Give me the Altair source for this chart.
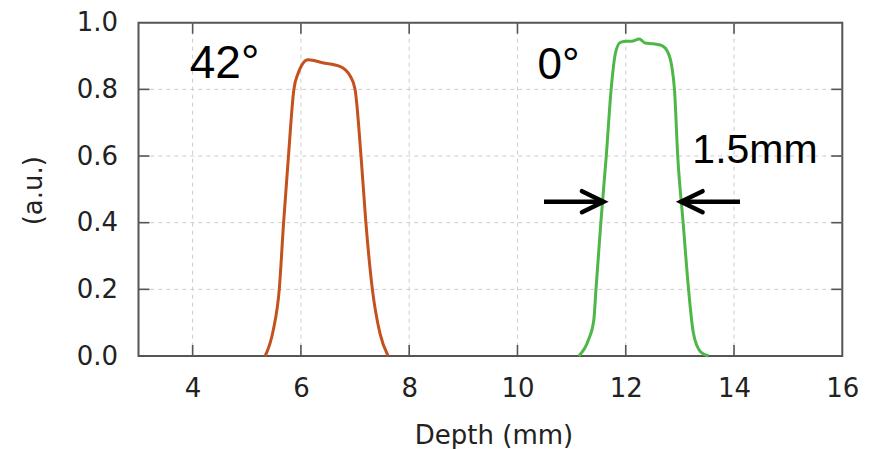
import altair as alt
import pandas as pd

# ---- data ----
x_42 = [5.34, 5.49, 5.60, 5.68, 5.77, 5.87, 5.95, 6.02, 6.08, 6.14, 6.40, 6.72, 6.91, 7.00, 7.11, 7.20, 7.32, 7.46, 7.61]
y_42 = [0.0, 0.078, 0.20, 0.40, 0.60, 0.80, 0.849, 0.874, 0.886, 0.889, 0.880, 0.869, 0.840, 0.80, 0.60, 0.40, 0.20, 0.068, 0.0]

x_0 = [11.13, 11.31, 11.41, 11.45, 11.54, 11.64, 11.73, 11.81, 11.90, 12.02, 12.11, 12.25, 12.36, 12.51, 12.67, 12.77, 12.85, 12.90, 12.96, 13.06, 13.16, 13.25, 13.38, 13.53]
y_0 = [0.0, 0.048, 0.108, 0.20, 0.40, 0.60, 0.80, 0.909, 0.941, 0.944, 0.944, 0.951, 0.939, 0.937, 0.931, 0.914, 0.869, 0.80, 0.60, 0.40, 0.20, 0.068, 0.013, 0.0]

series_names = ["42°", "0°"]
series_colors = ["#C4511E", "#4DB848"]

x_tick_labels = [4, 6, 8, 10, 12, 14, 16]
y_tick_labels = [0.0, 0.2, 0.4, 0.6, 0.8, 1.0]
x_grid = [4, 6, 8, 10, 12, 14]
y_grid = [0.2, 0.4, 0.6, 0.8]

note_text = ["42°", "0°", "1.5mm"]
note_x = [3.946, 10.37, 13.23]
note_y = [0.833, 0.832, 0.578]
note_size = [46, 44, 41]

arrow_tail = [10.49, 14.11]
arrow_head = [11.59, 13.02]
arrow_level = [0.463, 0.463]
arrow_angle = [0, 180]

# ---- tables ----
curves = pd.concat([
    pd.DataFrame({"depth": x_42, "val": y_42, "series": series_names[0]}),
    pd.DataFrame({"depth": x_0, "val": y_0, "series": series_names[1]}),
])
notes = pd.DataFrame({"t": note_text, "x": note_x, "y": note_y, "s": note_size})
arrows = pd.DataFrame({"tail": arrow_tail, "head": arrow_head, "y": arrow_level, "ang": arrow_angle})
xg = pd.DataFrame({"v": x_grid})
yg = pd.DataFrame({"v": y_grid})

W, H = 703.8, 333.3
xs = alt.Scale(domain=[3, 16], nice=False, zero=False)
ys = alt.Scale(domain=[0, 1], nice=False)
FRAME = "#555555"
TXT = "#222222"

x_axis = alt.Axis(
    values=x_tick_labels, format="d", ticks=False, tickSize=0, domain=False, grid=False,
    labelFont="DejaVu Sans", labelFontSize=26, labelColor=TXT, labelPadding=19.5,
    labelFlush=False, title="Depth (mm)", titleFont="DejaVu Sans", titleFontSize=26,
    titleFontWeight="normal", titleColor=TXT, titleX=355, titleY=79, titleBaseline="middle")
y_axis = alt.Axis(
    values=y_tick_labels, format=".1f", ticks=False, tickSize=0, domain=False, grid=False,
    labelFont="DejaVu Sans", labelFontSize=26, labelColor=TXT, labelPadding=21,
    labelFlush=False, title="(a.u.)", titleFont="DejaVu Sans", titleFontSize=26,
    titleFontWeight="normal", titleColor=TXT, titleAngle=270, titleX=-105.4, titleY=167.5,
    titleBaseline="middle", titleAlign="center")

def X(f):
    return alt.X(f, scale=xs, axis=x_axis)

def Y(f):
    return alt.Y(f, scale=ys, axis=y_axis)

grid_v = alt.Chart(xg).mark_rule(color="#cccccc", strokeDash=[4, 4], strokeWidth=1).encode(x=X("v:Q"))
grid_h = alt.Chart(yg).mark_rule(color="#cccccc", strokeDash=[4, 4], strokeWidth=1).encode(y=Y("v:Q"))

tick_b = alt.Chart(xg).mark_rule(color=FRAME, strokeWidth=1.6).encode(
    x=X("v:Q"), y=alt.value(H), y2=alt.value(H - 11))
tick_t = alt.Chart(xg).mark_rule(color=FRAME, strokeWidth=1.6).encode(
    x=X("v:Q"), y=alt.value(0), y2=alt.value(11))
tick_l = alt.Chart(yg).mark_rule(color=FRAME, strokeWidth=1.6).encode(
    y=Y("v:Q"), x=alt.value(0), x2=alt.value(11))
tick_r = alt.Chart(yg).mark_rule(color=FRAME, strokeWidth=1.6).encode(
    y=Y("v:Q"), x=alt.value(W - 11), x2=alt.value(W))

lines = alt.Chart(curves).mark_line(strokeWidth=3, interpolate="monotone").encode(
    x=X("depth:Q"),
    y=Y("val:Q"),
    color=alt.Color("series:N", scale=alt.Scale(domain=series_names, range=series_colors), legend=None),
)

shafts = alt.Chart(arrows).mark_rule(color="black", strokeWidth=4.5).encode(
    x=X("tail:Q"), x2="head:Q", y=Y("y:Q"))
heads = alt.Chart(arrows).mark_point(
    shape="M-1,-0.486L0,0L-1,0.486", filled=False, stroke="black", strokeWidth=4.5,
    opacity=1, size=1866, strokeCap="round", strokeJoin="miter").encode(
    x=X("head:Q"), y=Y("y:Q"), angle=alt.Angle("ang:Q", scale=None))

texts = alt.Chart(notes).mark_text(align="left", baseline="alphabetic", font="Liberation Sans",
                                   color="black").encode(
    x=X("x:Q"), y=Y("y:Q"), text="t:N", size=alt.Size("s:Q", scale=None))

chart = alt.layer(grid_v, grid_h, tick_b, tick_t, tick_l, tick_r, lines, shafts, heads, texts).properties(
    width=W, height=H,
    background="white",
    padding={"left": 138.5, "top": 22.7, "right": 876 - 138.5 - W, "bottom": 449 - 22.7 - H},
    autosize=alt.AutoSizeParams(type="none"),
).configure_view(stroke=FRAME, strokeWidth=2)

chart.save("out.html", embed_options={"renderer": "svg", "actions": False})
